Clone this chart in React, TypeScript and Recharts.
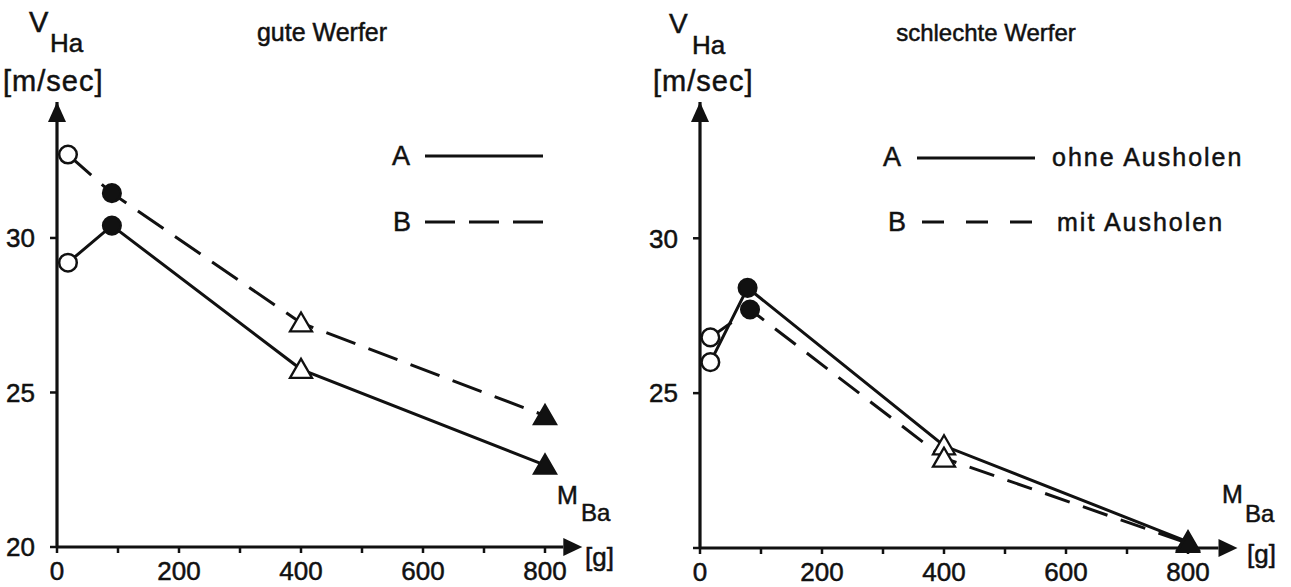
import React from 'react'
import { LineChart, Line, XAxis, YAxis, ReferenceDot } from 'recharts'

// Mass of ball [g] on x, hand velocity [m/sec] on y
const xTicks = [0, 100, 200, 300, 400, 500, 600, 700, 800]
const xLabelled = [0, 200, 400, 600, 800]
const yTicks = [20, 25, 30]

const guteA = [
  { m: 18, v: 29.2 },
  { m: 90, v: 30.4 },
  { m: 400, v: 25.75 },
  { m: 800, v: 22.65 },
]
const guteB = [
  { m: 18, v: 32.7 },
  { m: 90, v: 31.45 },
  { m: 400, v: 27.25 },
  { m: 800, v: 24.25 },
]
const schlechteA = [
  { m: 17, v: 26.0 },
  { m: 78, v: 28.4 },
  { m: 400, v: 23.3 },
  { m: 800, v: 20.2 },
]
const schlechteB = [
  { m: 17, v: 26.8 },
  { m: 82, v: 27.7 },
  { m: 400, v: 22.9 },
  { m: 800, v: 20.15 },
]

// marker kind for each point of a series
const MARKERS = ['openCircle', 'filledCircle', 'openTriangle', 'filledTriangle']

const INK = '#111'
const FONT = '"Liberation Sans", Arial, Helvetica, sans-serif'

const Marker = (props: any) => {
  const { cx, cy, index } = props
  const kind = MARKERS[index]
  const key = `m-${index}-${cx}`
  if (cx == null || cy == null) return <g key={key} />
  if (kind === 'openCircle' || kind === 'filledCircle') {
    return (
      <circle
        key={key}
        cx={cx}
        cy={cy}
        r={8.8}
        fill={kind === 'openCircle' ? '#fff' : INK}
        stroke={INK}
        strokeWidth={2.5}
      />
    )
  }
  const s = 10
  const pts = `${cx},${cy - s * 1.05} ${cx - s * 1.1},${cy + s * 0.85} ${cx + s * 1.1},${cy + s * 0.85}`
  return (
    <polygon
      key={key}
      points={pts}
      fill={kind === 'openTriangle' ? '#fff' : INK}
      stroke={INK}
      strokeWidth={2.3}
      strokeLinejoin="miter"
    />
  )
}

const ArrowRight = (props: any) => {
  const { cx, cy } = props
  return <polygon points={`${cx},${cy - 9} ${cx + 19},${cy} ${cx},${cy + 9}`} fill={INK} />
}

const ArrowUp = (props: any) => {
  const { cx, cy } = props
  return <polygon points={`${cx},${cy} ${cx - 9},${cy + 20} ${cx + 9},${cy + 20}`} fill={INK} />
}

const tickStyle = { fill: INK, fontSize: 26, fontFamily: FONT, stroke: INK, strokeWidth: 0.5 }

type PanelProps = {
  a: { m: number; v: number }[]
  b: { m: number; v: number }[]
  xMax: number
  width: number
  right: number
  bottom: number
  dash: string
  showMinY: boolean
}

const Panel = ({ a, b, xMax, width, right, bottom, dash, showMinY }: PanelProps) => (
  <LineChart width={width} height={587} margin={{ top: 102, right, bottom: 0, left: 0 }}>
    <XAxis
      type="number"
      dataKey="m"
      domain={[0, xMax]}
      ticks={xTicks}
      interval={0}
      height={bottom}
      tickSize={6}
      tickMargin={9}
      tickFormatter={(t: number) => (xLabelled.includes(t) ? String(t) : '')}
      axisLine={{ stroke: INK, strokeWidth: 3.2 }}
      tickLine={{ stroke: INK, strokeWidth: 2.5 }}
      tick={tickStyle}
    />
    <YAxis
      type="number"
      domain={[20, 34.4]}
      ticks={yTicks}
      interval={0}
      width={57}
      tickSize={7}
      tickMargin={15}
      tickFormatter={(t: number) => (t === 20 && !showMinY ? '' : String(t))}
      axisLine={{ stroke: INK, strokeWidth: 3.2 }}
      tickLine={{ stroke: INK, strokeWidth: 2.5 }}
      tick={tickStyle}
    />
    <Line
      data={a}
      dataKey="v"
      type="linear"
      stroke={INK}
      strokeWidth={3}
      dot={Marker}
      activeDot={false}
      isAnimationActive={false}
    />
    <Line
      data={b}
      dataKey="v"
      type="linear"
      stroke={INK}
      strokeWidth={3}
      strokeDasharray={dash}
      dot={Marker}
      activeDot={false}
      isAnimationActive={false}
    />
    <ReferenceDot x={xMax} y={20} ifOverflow="visible" shape={ArrowRight} />
    <ReferenceDot x={0} y={34.4} ifOverflow="visible" shape={ArrowUp} />
  </LineChart>
)

const T = ({ x, y, size, ls = 0, anchor = 'start', children }: any) => (
  <text
    x={x}
    y={y}
    fontSize={size}
    fontFamily={FONT}
    fill={INK}
    stroke={INK}
    strokeWidth={0.5}
    letterSpacing={ls}
    textAnchor={anchor}
  >
    {children}
  </text>
)

export default function App() {
  return (
    <div style={{ position: 'absolute', left: 0, top: 0, width: 1291, height: 587, background: '#fff' }}>
      <div style={{ position: 'absolute', left: 0, top: 0 }}>
        <Panel a={guteA} b={guteB} xMax={830} width={640} right={76.7} bottom={40} dash="31 14" showMinY />
      </div>
      <div style={{ position: 'absolute', left: 643, top: 0 }}>
        <Panel a={schlechteA} b={schlechteB} xMax={850} width={648} right={72.5} bottom={39} dash="26 14" showMinY={false} />
      </div>
      <svg width={1291} height={587} style={{ position: 'absolute', left: 0, top: 0, pointerEvents: 'none' }}>
        {/* left panel texts */}
        <T x={29} y={32} size={29}>V</T>
        <T x={50} y={52} size={26}>Ha</T>
        <T x={3} y={91} size={29} ls={1}>[m/sec]</T>
        <T x={322} y={41} size={25} anchor="middle">gute Werfer</T>
        <T x={392} y={165} size={27}>A</T>
        <line x1={425} y1={156} x2={543} y2={156} stroke={INK} strokeWidth={2.8} />
        <T x={393} y={231} size={27}>B</T>
        <line x1={425} y1={222} x2={543} y2={222} stroke={INK} strokeWidth={2.8} strokeDasharray="30 14" />
        <T x={557} y={504} size={25}>M</T>
        <T x={581} y={521} size={24}>Ba</T>
        <T x={585} y={566} size={26}>[g]</T>

        {/* right panel texts */}
        <T x={669} y={33} size={28}>V</T>
        <T x={692} y={54} size={26}>Ha</T>
        <T x={653} y={91} size={29} ls={1}>[m/sec]</T>
        <T x={986} y={41} size={24} anchor="middle">schlechte Werfer</T>
        <T x={883} y={166} size={27}>A</T>
        <line x1={917} y1={158} x2={1035} y2={158} stroke={INK} strokeWidth={2.8} />
        <T x={1052} y={166} size={25} ls={2}>ohne Ausholen</T>
        <T x={888} y={231} size={27}>B</T>
        <line x1={922} y1={222} x2={1032} y2={222} stroke={INK} strokeWidth={2.8} strokeDasharray="22 22" />
        <T x={1057} y={231} size={25} ls={2}>mit Ausholen</T>
        <T x={1222} y={503} size={25}>M</T>
        <T x={1245} y={522} size={24}>Ba</T>
        <T x={1247} y={563} size={26}>[g]</T>
      </svg>
    </div>
  )
}
